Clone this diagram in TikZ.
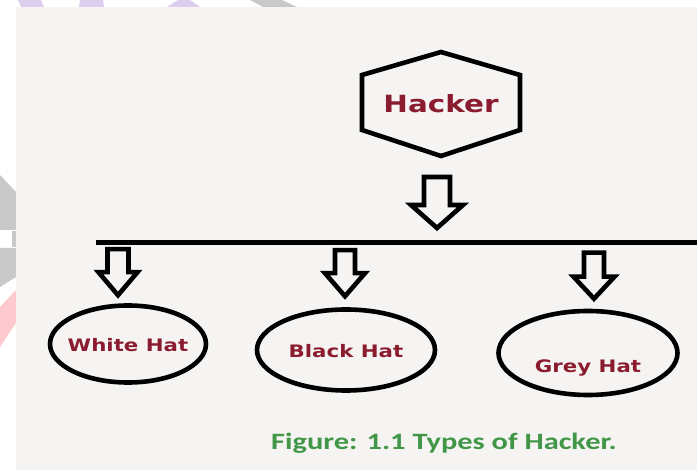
\documentclass[tikz,border=0pt]{standalone}
\usepackage{fontspec}
\usepackage{tikz}
\usepackage{xcolor}
\usetikzlibrary{shapes}
\newfontfamily\labelfont[FakeStretch=1.24]{DejaVu Sans}
\newfontfamily\capfont[FakeStretch=1.3]{Carlito}
\definecolor{hatred}{RGB}{139,27,47}
\definecolor{figgreen}{RGB}{66,150,72}
\definecolor{panel}{RGB}{245,244,242}
\definecolor{wmlilac}{RGB}{221,206,240}
\definecolor{wmgrey}{RGB}{201,201,201}
\definecolor{wmpink}{RGB}{255,202,207}
\tikzset{hat/.style={ellipse,draw,line width=4.6pt,inner ysep=0pt,inner xsep=-6pt,text=hatred,
   font=\labelfont\bfseries\fontsize{17.2}{20}\selectfont},
 outline/.style={line width=4.6pt},
 pics/dnarrow/.style n args={4}{code={
   \draw[outline] (0,0) -- (#2,-#3) -- (#1,-#3) -- (#1,-#4) -- (-#1,-#4)
     -- (-#1,-#3) -- (-#2,-#3) -- cycle;}},
 }

\begin{document}
\begin{tikzpicture}[x=1pt,y=-1pt]
        \useasboundingbox (0,0) rectangle (697,470);
        % watermark bits
        \fill[wmlilac] (18,0) -- (41,0) -- (44,7) -- (21,7) -- cycle;
        \fill[wmlilac] (80,0) -- (103,0) -- (104,7) -- (79,7) -- cycle;
        \fill[wmlilac] (178,0) -- (190,0) -- (200,7) -- (167,7) -- cycle;
        \fill[wmgrey] (250,0) -- (282,0) -- (297,7) -- (263,7) -- cycle;
        \fill[wmgrey] (0,175) -- (16,192) -- (16,230) -- (0,230) -- cycle;
        \fill[wmgrey] (12,231) rectangle (16,247);
        \fill[wmgrey] (0,248) -- (16,248) -- (16,277) -- (0,287) -- cycle;
        \fill[wmpink] (0,307) -- (16,290) -- (16,323) -- (0,347) -- cycle;
        \fill[panel] (16,7) rectangle (697,470);

        \node[font=\labelfont\bfseries\fontsize{23.7}{28}\selectfont,text=hatred] (hacker) at (441,104) {Hacker};
        \draw[outline,shift={(hacker.center)}] (0,-52) -- (79,-29) -- (79,26) -- (0,52)
            -- (-79,26) -- (-79,-29) -- cycle;
        \pic at ([xshift=-4pt,yshift=-124pt]hacker.center) {dnarrow={13}{26}{23}{51}};

        \coordinate (busL) at (96,243);
        \coordinate (busR) at (697,243);
        \draw[line width=5pt] (busL) -- (busR);

        \node[hat,minimum width=156pt,minimum height=77pt,text height=20pt,text depth=4pt] (white) at (128,344) {White Hat};
        \node[hat,minimum width=178pt,minimum height=81pt,text height=20pt,text depth=4pt] (black) at (346,350) {Black Hat};
        \node[hat,minimum width=179pt,minimum height=84pt,text height=44pt,text depth=4pt] (grey) at (588,353) {Grey Hat};

        \pic at ([xshift=-10pt,yshift=8pt]white.north) {dnarrow={10.5}{19.5}{23}{46}};
        \pic at ([xshift=-1pt,yshift=11pt]black.north) {dnarrow={10}{20}{23}{46}};
        \pic at ([xshift=6pt,yshift=10pt]grey.north) {dnarrow={10}{20.5}{22}{46}};

        \node[font=\capfont\bfseries\fontsize{23.4}{28}\selectfont,text=figgreen,anchor=base] (caption) at (444,450) {Figure: 1.1 Types of Hacker.};
    \end{tikzpicture}
\end{document}
